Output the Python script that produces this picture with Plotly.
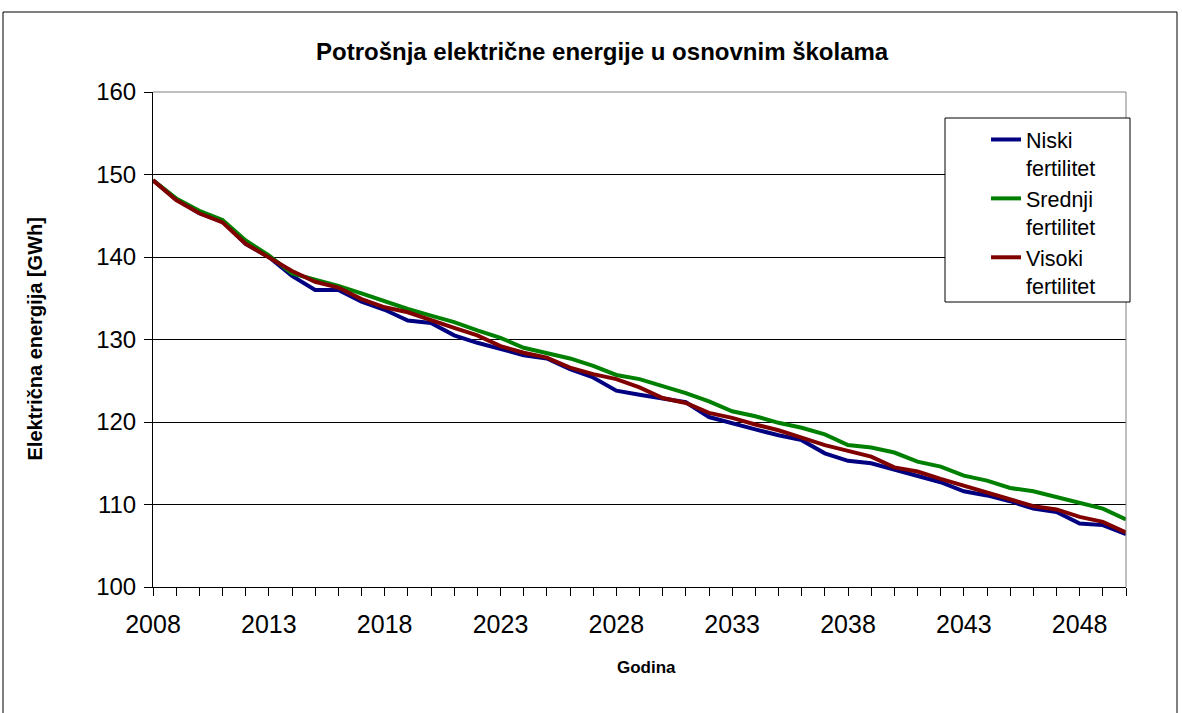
import plotly.graph_objects as go

years = list(range(2008, 2051))

niski = [149.3, 147.0, 145.3, 144.3, 141.6, 140.0, 137.7, 136.0, 136.0, 134.6,
         133.6, 132.3, 132.0, 130.5, 129.6, 128.9, 128.1, 127.7, 126.4, 125.4,
         123.8, 123.3, 122.8, 122.4, 120.6, 119.8, 119.1, 118.4, 117.8, 116.2,
         115.3, 115.0, 114.2, 113.5, 112.7, 111.6, 111.1, 110.4, 109.5, 109.1,
         107.7, 107.5, 106.4]
srednji = [149.3, 147.1, 145.6, 144.5, 142.0, 140.2, 138.0, 137.3, 136.5, 135.6,
           134.6, 133.7, 132.9, 132.1, 131.1, 130.2, 129.0, 128.4, 127.7, 126.8,
           125.7, 125.2, 124.4, 123.5, 122.5, 121.3, 120.7, 119.9, 119.3, 118.5,
           117.2, 116.9, 116.3, 115.2, 114.6, 113.5, 112.9, 112.0, 111.6, 110.9,
           110.3, 109.5, 108.2]
visoki = [149.3, 146.9, 145.3, 144.2, 141.6, 140.0, 138.3, 137.0, 136.3, 134.9,
          133.9, 133.3, 132.3, 131.4, 130.5, 129.2, 128.4, 127.8, 126.6, 125.8,
          125.2, 124.2, 122.9, 122.3, 121.1, 120.5, 119.7, 119.0, 118.1, 117.2,
          116.5, 115.8, 114.5, 114.0, 113.1, 112.3, 111.5, 110.7, 109.8, 109.4,
          108.5, 107.9, 106.6]

series_names = ["Niski<br>fertilitet", "Srednji<br>fertilitet", "Visoki<br>fertilitet"]
series_colors = ["#000080", "#008000", "#800000"]
y_ticks = [100, 110, 120, 130, 140, 150, 160]
x_ticktext = [str(y) if (y - 2008) % 5 == 0 else "" for y in years]

FONT = "Liberation Sans, Arial, sans-serif"

fig = go.Figure()
for name, vals, col in zip(series_names, [niski, srednji, visoki], series_colors):
    fig.add_trace(go.Scatter(x=years, y=vals, mode="lines", name=name,
                             line=dict(color=col, width=4)))

W, H = 1182, 713
L, R, T, B = 153, 56, 92, 126
pw, ph = W - L - R, H - T - B

def px(x):
    return (x - L) / pw

def py(y):
    return (H - B - y) / ph

fig.update_layout(
    width=W, height=H,
    margin=dict(l=L, r=R, t=T, b=B),
    paper_bgcolor="white", plot_bgcolor="white",
    font=dict(family=FONT, color="black"),
    showlegend=True,
    legend=dict(x=px(986), y=py(119), xanchor="left", yanchor="top",
                bgcolor="rgba(0,0,0,0)", borderwidth=0,
                font=dict(size=21.5, family=FONT), valign="top",
                tracegroupgap=0),
    xaxis=dict(range=[2008, 2050], tickvals=years, ticktext=x_ticktext,
               ticks="outside", ticklen=8, tickcolor="black", tickwidth=1,
               showgrid=False, zeroline=False, showline=True,
               linecolor="black", linewidth=1,
               tickfont=dict(size=25, family=FONT), ticklabelstandoff=7),
    yaxis=dict(range=[100, 160], tickvals=y_ticks,
               ticks="outside", ticklen=8, tickcolor="black", tickwidth=1,
               showgrid=True, gridcolor="black", gridwidth=1,
               zeroline=False, showline=True, linecolor="black", linewidth=1,
               tickfont=dict(size=24, family=FONT), ticklabelstandoff=3),
    annotations=[
        dict(text="<b>Potrošnja električne energije u osnovnim školama</b>",
             xref="paper", yref="paper", x=px(602), y=py(52),
             xanchor="center", yanchor="middle", showarrow=False,
             font=dict(size=24, family=FONT)),
        dict(text="<b>Električna energija [GWh]</b>", textangle=-90,
             xref="paper", yref="paper", x=px(34), y=0.5,
             xanchor="center", yanchor="middle", showarrow=False,
             font=dict(size=20, family=FONT)),
        dict(text="<b>Godina</b>",
             xref="paper", yref="paper", x=px(646), y=py(667),
             xanchor="center", yanchor="middle", showarrow=False,
             font=dict(size=17, family=FONT)),
    ],
    shapes=[
        dict(type="rect", xref="paper", yref="paper",
             x0=px(3), x1=px(1177), y0=py(730), y1=py(12),
             line=dict(color="black", width=1), fillcolor="rgba(0,0,0,0)",
             layer="below"),
        dict(type="line", xref="paper", yref="paper", x0=0, x1=1, y0=1, y1=1,
             line=dict(color="#808080", width=1), layer="above"),
        dict(type="line", xref="paper", yref="paper", x0=1, x1=1, y0=0, y1=1,
             line=dict(color="#808080", width=1), layer="above"),
        dict(type="rect", xref="paper", yref="paper",
             x0=px(945), x1=px(1130), y0=py(302), y1=py(118),
             line=dict(color="black", width=1), fillcolor="white",
             layer="above"),
    ],
)

fig.write_html("out.html",
               config={"displayModeBar": False},
               post_script="document.body.style.margin='0';")
